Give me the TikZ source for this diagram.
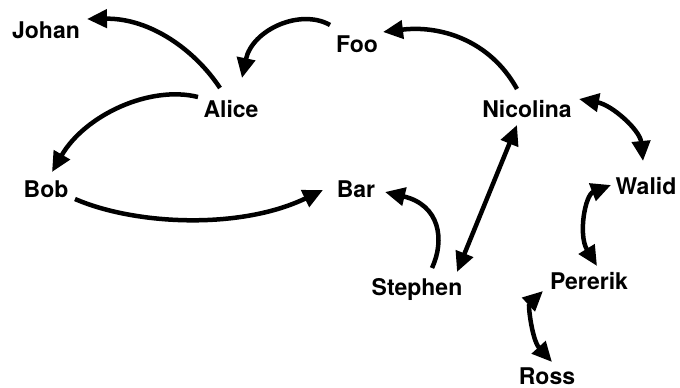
\documentclass[tikz,border=0pt]{standalone}
\usepackage{fontspec}
\setmainfont{TeX Gyre Heros}
\usetikzlibrary{arrows.meta}
\begin{document}
\begin{tikzpicture}[x=1pt,y=-1pt,
  lbl/.style={inner sep=0pt,font=\fontsize{23}{27}\selectfont\bfseries},
  edge/.style={line width=4.5pt,-{Triangle[length=20pt,width=18pt]}},
  biedge/.style={line width=4.5pt,{Triangle[length=20pt,width=18pt]}-{Triangle[length=20pt,width=18pt]}}]
\useasboundingbox (0,0) rectangle (680,388);
\node[lbl] (johan) at (46,30) {Johan};
\node[lbl] (foo) at (357,44) {Foo};
\node[lbl] (alice) at (231,109) {Alice};
\node[lbl] (nicolina) at (527,109) {Nicolina};
\node[lbl] (bob) at (46,189) {Bob};
\node[lbl] (bar) at (356,189) {Bar};
\node[lbl] (walid) at (646,186) {Walid};
\node[lbl] (stephen) at (417,289) {Stephen};
\node[lbl] (pererik) at (589,281) {Pererik};
\node[lbl] (ross) at (547,376) {Ross};
% Alice -> Johan
\draw[edge] ([shift={(-11,-21)}]alice.center) .. controls (195,50) and (150,18) .. ([shift={(41,-11)}]johan.center);
% Foo -> Alice
\draw[edge] ([shift={(-27,-19)}]foo.center) .. controls (300,8) and (252,30) .. ([shift={(11,-31)}]alice.center);
% Alice -> Bob
\draw[edge] ([shift={(-33,-12)}]alice.center) .. controls (150,85) and (85,115) .. ([shift={(6,-17)}]bob.center);
% Bob -> Bar
\draw[edge] ([shift={(29,10)}]bob.center) .. controls (135,225) and (240,230) .. ([shift={(-33,1)}]bar.center);
% Nicolina -> Foo
\draw[edge] ([shift={(-10,-20)}]nicolina.center) .. controls (490,40) and (440,25) .. ([shift={(26,-12)}]foo.center);
% Nicolina <-> Walid
\draw[biedge] ([shift={(52,-10)}]nicolina.center) .. controls (612,105) and (640,130) .. ([shift={(-3,-25)}]walid.center);
% Stephen <-> Nicolina
\draw[biedge] ([shift={(40,-17)}]stephen.center) -- ([shift={(-10,16)}]nicolina.center);
% Stephen -> Bar
\draw[edge] ([shift={(15,-21)}]stephen.center) .. controls (445,240) and (440,205) .. ([shift={(29,3)}]bar.center);
% Walid <-> Pererik
\draw[biedge] ([shift={(-35,-1)}]walid.center) .. controls (585,195) and (578,235) .. ([shift={(8,-15)}]pererik.center);
% Pererik <-> Ross
\draw[biedge] ([shift={(-46,10)}]pererik.center) .. controls (528,305) and (532,340) .. ([shift={(5,-14)}]ross.center);
\end{tikzpicture}
\end{document}
